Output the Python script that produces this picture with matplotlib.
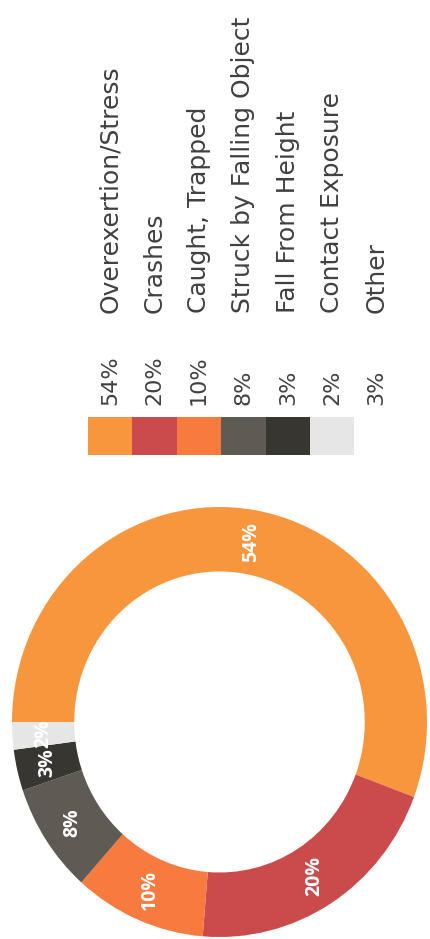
import numpy as np
import matplotlib
matplotlib.use("Agg")
import matplotlib.pyplot as plt
from matplotlib.patches import Rectangle

categories = ["Overexertion/Stress", "Crashes", "Caught, Trapped",
              "Struck by Falling Object", "Fall From Height",
              "Contact Exposure", "Other"]
values = [54, 20, 10, 8, 3, 2, 3]
colors = ["#F8963D", "#CB4A4C", "#F77A3E", "#5F5A53", "#383630",
          "#E6E6E6", "#FFFFFF"]

W, H = 430, 939
fig = plt.figure(figsize=(W / 100, H / 100), dpi=100)
fig.patch.set_facecolor("white")

# donut (the page is turned a quarter turn, so text runs upward)
# "Other" is listed in the legend but has no ring segment
cx, cy, rx, ry = 219.5, 722, 207.5, 215
ax = fig.add_axes([(cx - rx) / W, (H - cy - ry) / H, 2 * rx / W, 2 * ry / H])
wedges, _ = ax.pie(values[:-1], colors=colors[:-1], startangle=180,
                   counterclock=False, radius=1.0,
                   wedgeprops=dict(width=0.3, edgecolor="none"))
for w, val in zip(wedges, values):
    mid = np.deg2rad((w.theta1 + w.theta2) / 2)
    ax.text(0.85 * np.cos(mid), 0.85 * np.sin(mid), f"{val}%", rotation=90,
            ha="center", va="center", fontsize=14, fontweight="bold",
            color="white", family=["Open Sans", "DejaVu Sans"])
ax.texts[0].set_color("#FCE6CE")
ax.set_xlim(-1, 1)
ax.set_ylim(-1, 1)
ax.set_aspect("auto")
ax.axis("off")

# legend
lax = fig.add_axes([0, 0, 1, 1])
lax.set_xlim(0, W)
lax.set_ylim(H, 0)
lax.axis("off")

x0, step = 88, 44.4
font = dict(rotation=90, ha="left", va="center", rotation_mode="anchor",
            color="#404040", family=["DejaVu Sans"])
for i, (cat, val, col) in enumerate(zip(categories, values, colors)):
    lax.add_patch(Rectangle((x0 + i * step, 417), step, 38, color=col, lw=0))
    xc = x0 + i * step + step / 2
    lax.text(xc, 405, f"{val}%", fontsize=16, **font)
    lax.text(xc, 313, cat, fontsize=18, **font)

fig.savefig("out.png", dpi=100, facecolor="white")
